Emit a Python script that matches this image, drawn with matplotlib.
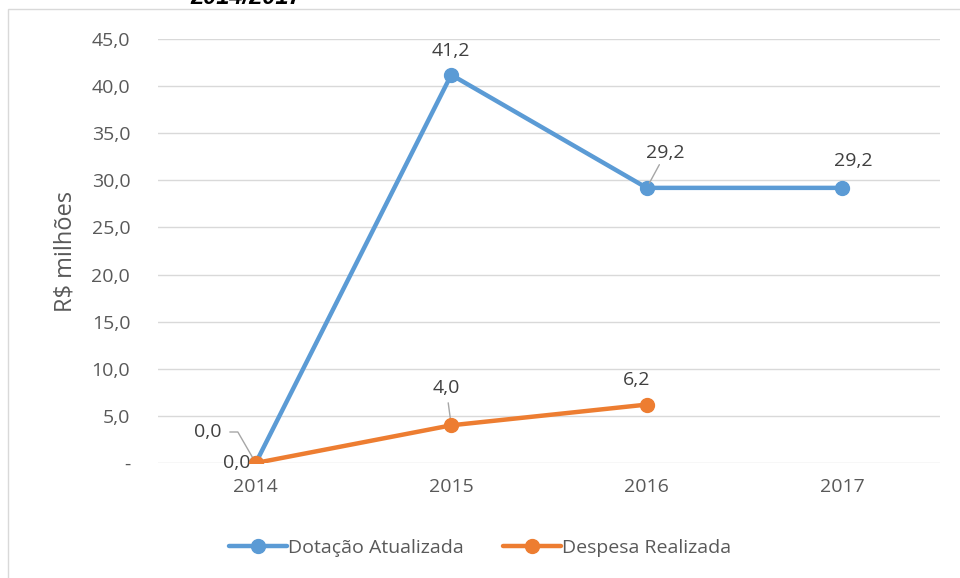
import matplotlib.pyplot as plt
from matplotlib.patches import Rectangle

anos = ['2014', '2015', '2016', '2017']
dotacao = [0.0, 41.2, 29.2, 29.2]
despesa = [0.0, 4.0, 6.2]
rotulos_dotacao = ['0,0', '41,2', '29,2', '29,2']
rotulos_despesa = ['0,0', '4,0', '6,2']
yticks = [0, 5, 10, 15, 20, 25, 30, 35, 40, 45]
ytick_labels = ['-', '5,0', '10,0', '15,0', '20,0', '25,0', '30,0', '35,0', '40,0', '45,0']

AZUL = '#5b9bd5'
LARANJA = '#ed7d31'
CINZA = '#595959'

plt.rcParams['font.family'] = ['Open Sans', 'DejaVu Sans']

fig = plt.figure(figsize=(9.6, 5.78), dpi=100)
ax = fig.add_axes([158 / 960, 1 - 463 / 578, (940 - 158) / 960, (463 - 39) / 578])

# borda do gráfico
fig.patches.append(Rectangle((8 / 960, -0.1), 1.1, 1 - 9 / 578 + 0.1,
                             transform=fig.transFigure, fill=False,
                             edgecolor='#d9d9d9', lw=1))
# título cortado no topo (como na imagem original)
fig.text(190 / 960, 1 - 4 / 578, '2014/2017', fontsize=17, fontweight='bold',
         fontstyle='italic', va='baseline', ha='left', color='black',
         family=['Liberation Sans'])

x = list(range(len(anos)))
ax.plot(x, dotacao, color=AZUL, lw=3.2, marker='o', ms=10, label='Dotação Atualizada',
        solid_capstyle='round', zorder=3)
ax.plot(x[:len(despesa)], despesa, color=LARANJA, lw=3.2, marker='o', ms=10,
        label='Despesa Realizada', solid_capstyle='round', zorder=4)

ax.set_xlim(-0.5, 3.5)
ax.set_ylim(0, 45)
ax.set_xticks(x)
ax.set_xticklabels(anos)
ax.set_yticks(yticks)
ax.set_yticklabels(ytick_labels)
ax.tick_params(axis='both', length=0, labelsize=14, labelcolor=CINZA)
ax.tick_params(axis='y', pad=20)
ax.tick_params(axis='x', pad=11)
ax.grid(axis='y', color='#d9d9d9', lw=1)
ax.set_axisbelow(True)
for s in ax.spines.values():
    s.set_visible(False)
ax.set_ylabel('R$ milhões', fontsize=17, color=CINZA, labelpad=10)

lab = dict(textcoords='offset pixels', fontsize=14, color='#404040',
           ha='center', va='center')
linha = dict(arrowstyle='-', color='#a6a6a6', lw=1, shrinkA=0, shrinkB=4)

# rótulos Dotação
ax.annotate(rotulos_dotacao[0], (0, 0), xytext=(-48, 31), arrowprops=dict(
    arrowstyle='-', color='#a6a6a6', lw=1, shrinkA=4, shrinkB=3,
    connectionstyle='angle,angleA=0,angleB=120,rad=0'), **lab)
ax.annotate(rotulos_dotacao[1], (1, 41.2), xytext=(0, 24), **lab)
ax.annotate(rotulos_dotacao[2], (2, 29.2), xytext=(19, 35), arrowprops=linha, **lab)
ax.annotate(rotulos_dotacao[3], (3, 29.2), xytext=(11, 27), **lab)

# rótulos Despesa
ax.annotate(rotulos_despesa[0], (0, 0), xytext=(-19, 0), **lab)
ax.annotate(rotulos_despesa[1], (1, 4.0), xytext=(-5, 37), arrowprops=dict(
    arrowstyle='-', color='#a6a6a6', lw=1, shrinkA=2, shrinkB=4), **lab)
ax.annotate(rotulos_despesa[2], (2, 6.2), xytext=(-10, 25), **lab)

leg = fig.legend(loc='center', bbox_to_anchor=(0.5, 1 - 548 / 578), ncol=2,
                 frameon=False, fontsize=14, handlelength=3.0, handletextpad=0.05,
                 columnspacing=2.0)
for t in leg.get_texts():
    t.set_color(CINZA)

fig.savefig('out.png', dpi=100)
